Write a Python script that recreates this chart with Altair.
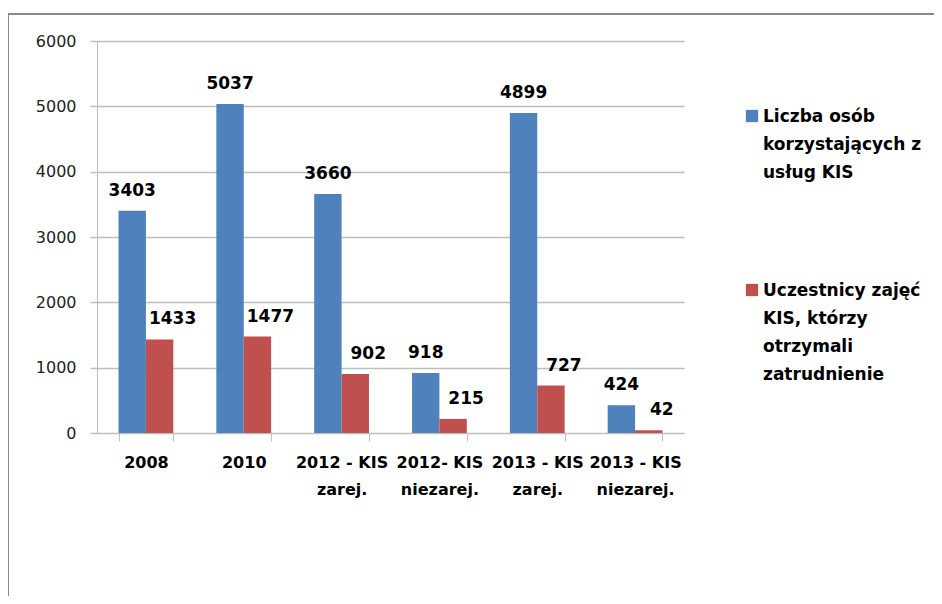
import altair as alt
import pandas as pd

categories = ["2008", "2010", "2012 - KIS\nzarej.", "2012- KIS\nniezarej.",
              "2013 - KIS\nzarej.", "2013 - KIS\nniezarej."]
series = ["Liczba osób korzystających z usług KIS",
          "Uczestnicy zajęć KIS, którzy otrzymali zatrudnienie"]
users = [3403, 5037, 3660, 918, 4899, 424]
employed = [1433, 1477, 902, 215, 727, 42]
legend_lines = [["Liczba osób", "korzystających z", "usług KIS"],
                ["Uczestnicy zajęć", "KIS, którzy", "otrzymali", "zatrudnienie"]]
colors = ["#4F81BD", "#C0504D"]
y_ticks = [0, 1000, 2000, 3000, 4000, 5000, 6000]

rows = []
for c, u, e in zip(categories, users, employed):
    rows.append({"cat": c, "series": series[0], "value": u})
    rows.append({"cat": c, "series": series[1], "value": e})
df = pd.DataFrame(rows)

W, H = 587, 392
FONT = "DejaVu Sans"
GRID = "#BEBEBE"

color = alt.Color("series:N", scale=alt.Scale(domain=series, range=colors), legend=None)
x = alt.X("cat:N", sort=categories,
          scale=alt.Scale(paddingInner=0.44, paddingOuter=0.22),
          axis=alt.Axis(title=None, labelAngle=0, labelExpr="split(datum.label, '\\n')",
                        labelFont=FONT, labelFontSize=16, labelFontWeight="bold",
                        labelColor="#000000", labelLineHeight=27, labelPadding=13,
                        tickBand="extent", tickSize=8, tickColor=GRID, domainColor=GRID,
                        grid=False))
y = alt.Y("value:Q", scale=alt.Scale(domain=[0, 6000], nice=False),
          axis=alt.Axis(title=None, values=y_ticks, format="d", grid=True,
                        gridColor=GRID, gridWidth=1.5,
                        tickSize=7, tickColor=GRID, tickWidth=1.5, domainColor=GRID,
                        labelFont=FONT, labelFontSize=16, labelColor="#222222",
                        labelPadding=14))
xo = alt.XOffset("series:N", sort=series)

base = alt.Chart(df)
bars = base.mark_bar().encode(x=x, y=y, xOffset=xo, color=color)

label_layers = []
for s, dx in zip(series, [0, 13]):
    label_layers.append(
        base.transform_filter(alt.datum.series == s).mark_text(
            baseline="alphabetic", dy=-15, dx=dx, font=FONT, fontSize=17,
            fontWeight="bold", color="#000000").encode(
            x=x, y=y, xOffset=xo, text=alt.Text("value:Q", format="d")))

one = pd.DataFrame({"k": [0]})
border_top = alt.Chart(one).mark_rule(color="#888888", strokeWidth=2).encode(
    x=alt.value(-89), x2=alt.value(837), y=alt.value(-27))
border_left = alt.Chart(one).mark_rule(color="#888888", strokeWidth=2).encode(
    x=alt.value(-89), y=alt.value(-27), y2=alt.value(560))

legend_layers = []
for i, (s, lines) in enumerate(zip(series, legend_lines)):
    sq = alt.Chart(pd.DataFrame({"series": [s]})).mark_square(size=150, opacity=1).encode(
        x=alt.value(655), y=alt.value(75 + i * 174), color=color)
    tx = alt.Chart(pd.DataFrame({"t": ["\n".join(lines)]})).mark_text(
        align="left", baseline="alphabetic", lineBreak="\n", lineHeight=28,
        font=FONT, fontSize=17, fontWeight="bold", color="#000000").encode(
        x=alt.value(666), y=alt.value(81 + i * 174), text="t:N")
    legend_layers += [sq, tx]

chart = alt.layer(bars, *label_layers, border_top, border_left, *legend_layers).properties(
    width=W, height=H,
    autosize=alt.AutoSizeParams(type="none"),
    padding={"left": 89, "top": 33, "right": 250, "bottom": 163},
).configure_view(stroke=None)

chart.save("out.html", embed_options={"renderer": "svg", "actions": False})
